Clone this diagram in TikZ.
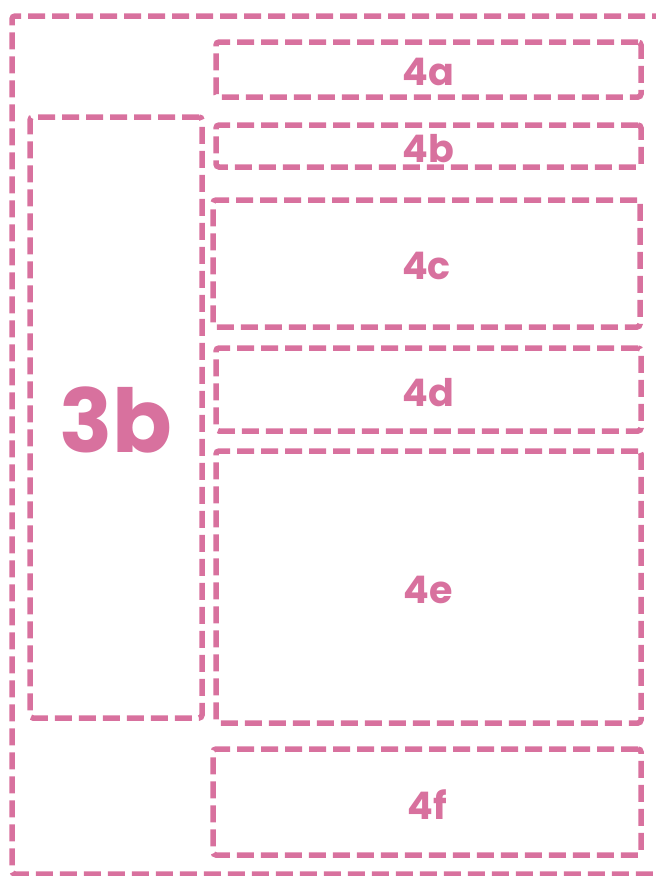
\documentclass[tikz,border=0pt]{standalone}
\usepackage{fontspec}
\newfontfamily\labelfont{Poppins}
\definecolor{pinkline}{RGB}{216,113,158}
\newcommand{\lowtext}[1]{\raisebox{-2.5pt}[\height][0pt]{#1}}
\tikzset{
  dbox/.style={draw=pinkline, line width=5.5pt, dash pattern=on 17pt off 7pt,
    rounded corners=3pt, inner sep=0pt, outer sep=0pt, text=pinkline,
    font=\labelfont\bfseries\fontsize{38}{38}\selectfont},
  bigbox/.style={dbox, font=\labelfont\bfseries\fontsize{88}{88}\selectfont}
}
\begin{document}
\begin{tikzpicture}[x=1pt,y=-1pt]
\useasboundingbox (0,0) rectangle (656,876);
\node[dbox, minimum width=660pt, minimum height=858pt] (outer) at (342,445) {};
\node[dbox, minimum width=425pt, minimum height=55pt] (a) at (428.5,69.5) {\lowtext{4a}};
\node[dbox, minimum width=425pt, minimum height=42pt] (b) at (428.5,146) {\lowtext{4b}};
\node[dbox, minimum width=427pt, minimum height=127pt] (c) at (426.5,263.5) {\lowtext{4c}};
\node[dbox, minimum width=425pt, minimum height=83pt] (d) at (428.5,389.5) {\lowtext{4d}};
\node[dbox, minimum width=425pt, minimum height=272pt] (e) at (428.5,587) {\lowtext{4e}};
\node[dbox, minimum width=428pt, minimum height=106pt] (f) at (427,802) {\lowtext{4f}};
\node[bigbox, minimum width=172pt, minimum height=601pt] (g) at (116,417.5) {\lowtext{3b}};
\end{tikzpicture}
\end{document}
